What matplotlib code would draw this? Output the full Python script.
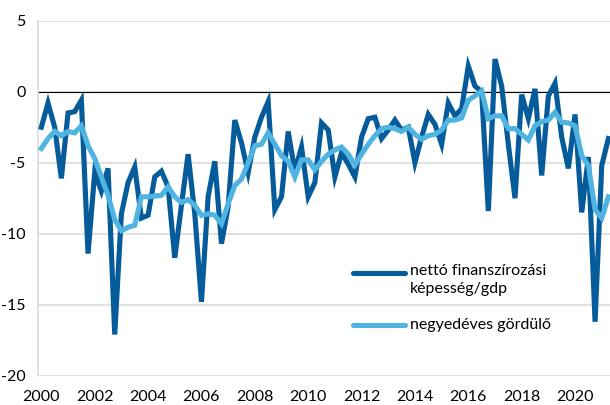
import numpy as np
import matplotlib
matplotlib.use("Agg")
import matplotlib.pyplot as plt
from matplotlib.lines import Line2D

plt.rcParams['font.family'] = ['Lato', 'DejaVu Sans']
plt.rcParams['axes.unicode_minus'] = False

# ------------------------------------
# Data (quarterly, 2000Q1 - 2021Q2), % of GDP
# ------------------------------------
netto = [
    -2.5, -0.8, -2.5, -6.1, -1.5, -1.4, -0.6, -11.4,
    -5.7, -7.0, -5.4, -17.1, -8.6, -6.4, -5.3, -8.9,
    -8.7, -6.0, -5.6, -6.7, -11.7, -8.0, -4.4, -8.6,
    -14.8, -7.4, -4.9, -10.7, -8.1, -2.0, -3.6, -5.7,
    -3.2, -1.8, -0.7, -8.3, -7.4, -2.8, -5.6, -3.9,
    -7.4, -6.4, -2.2, -2.7, -6.0, -4.3, -5.1, -6.0,
    -3.2, -1.9, -1.8, -3.3, -2.7, -2.0, -2.7, -2.5,
    -5.0, -3.2, -1.6, -2.3, -3.7, -0.8, -1.7, -1.2,
    1.8, 0.4, 0.0, -8.4, 2.3, 0.4, -3.7, -7.5,
    -0.2, -1.9, 0.2, -5.9, -0.3, 0.6, -3.2, -5.4,
    -1.6, -8.5, -4.6, -16.2, -5.2, -3.3,
]
gordulo = [
    -4.0, -3.3, -2.8, -3.1, -2.8, -2.9, -2.4, -3.8,
    -4.7, -6.0, -7.3, -9.0, -9.8, -9.55, -9.4, -7.4,
    -7.4, -7.35, -7.3, -6.7, -7.4, -7.8, -7.6, -8.0,
    -8.7, -8.6, -8.7, -9.3, -7.9, -6.6, -6.15, -5.0,
    -3.8, -3.7, -2.9, -3.7, -4.5, -4.9, -6.0, -4.8,
    -4.8, -5.5, -4.9, -4.4, -4.1, -3.9, -4.4, -5.15,
    -4.4, -3.7, -3.1, -2.6, -2.5, -2.6, -2.8, -2.5,
    -3.0, -3.35, -3.1, -3.0, -2.7, -2.0, -2.0, -1.85,
    -0.6, -0.3, 0.05, -1.9, -1.7, -1.7, -2.6, -2.6,
    -3.0, -3.4, -2.4, -2.1, -2.0, -1.45, -2.15, -2.2,
    -2.4, -4.5, -5.2, -8.3, -8.9, -7.4,
]
years = [str(y) for y in range(2000, 2021, 2)]
labels = ["nettó finanszírozási\nképesség/gdp", "negyedéves gördülő"]

dark = "#065C9B"
light = "#50B4E2"

x = np.arange(len(netto))

# ------------------------------------
# Plot
# ------------------------------------
fig = plt.figure(figsize=(6.1, 4.05), dpi=100)
ax = fig.add_axes([0.0623, 0.0723, 0.9377, 0.8766])

ax.plot(x, netto, color=dark, lw=3.7, solid_joinstyle='miter', zorder=3)
ax.plot(x, gordulo, color=light, lw=3.7, solid_joinstyle='miter', zorder=4)
ax.axhline(0, color='black', lw=0.8, zorder=2)

ax.set_xlim(-0.5, 85.24)
ax.set_ylim(-20, 5)
ax.set_yticks(range(-20, 6, 5))
ax.set_xticks(range(0, len(netto), 8))
ax.set_xticklabels(years)
ax.grid(axis='y', color='#D9D9D9', lw=1.1, zorder=1)
ax.set_axisbelow(True)

for s in ['top', 'right', 'bottom']:
    ax.spines[s].set_visible(False)
ax.spines['left'].set_color('#D9D9D9')
ax.spines['left'].set_linewidth(1.1)
ax.tick_params(length=0, labelsize=11.5, colors='black')
ax.tick_params(axis='y', pad=9)
ax.tick_params(axis='x', pad=10)

# legend (drawn by hand, Excel style)
fig.add_artist(Line2D([353 / 610, 405 / 610], [1 - 273 / 405] * 2,
                      color=dark, lw=3.7, solid_capstyle='round'))
fig.add_artist(Line2D([353 / 610, 405 / 610], [1 - 325 / 405] * 2,
                      color=light, lw=3.7, solid_capstyle='round'))
fig.text(410 / 610, 1 - 264 / 405, labels[0], fontsize=11.5, va='top',
         linespacing=1.4)
fig.text(410 / 610, 1 - 325 / 405, labels[1], fontsize=11.5, va='center')

fig.savefig("out.png", dpi=100)
